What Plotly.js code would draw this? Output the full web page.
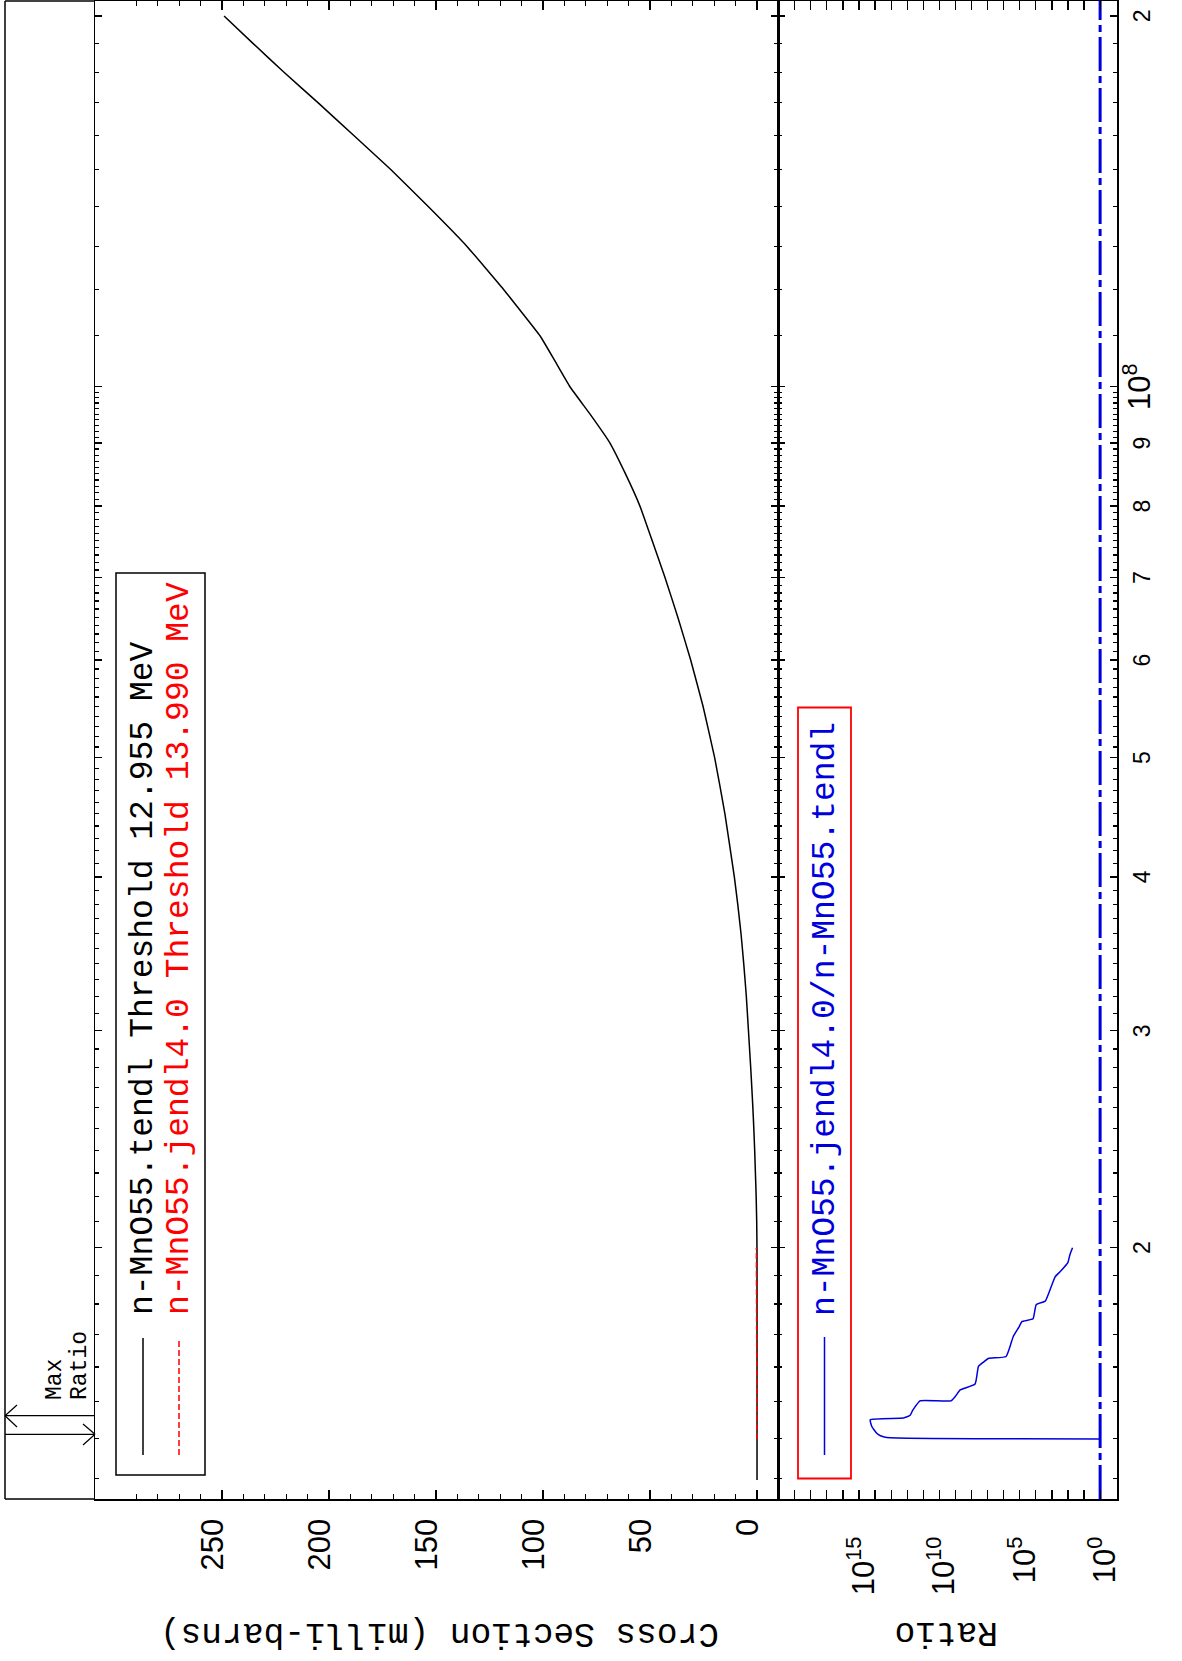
<!DOCTYPE html>
<html><head><meta charset="utf-8">
<script src="https://cdn.plot.ly/plotly-3.0.1.min.js"></script>
<style>
html,body{margin:0;padding:0;width:1182px;height:1661px;overflow:hidden;background:#fff}
#wrap{position:absolute;left:0;top:0;width:1661px;height:1182px;transform-origin:0 0;transform:translate(0,1661px) rotate(-90deg);}
#chart{width:1661px;height:1182px}
</style></head><body><div id="wrap"><div id="chart"></div></div>
<script>
// ---- data (energy in eV, cross section in milli-barns) ----
const energyTendl = [1.2955e7,1.4e7,1.6e7,1.8e7,2.0e7,2.1e7,2.2e7,2.3e7,2.4e7,2.5e7,2.6e7,2.7e7,2.8e7,3.0e7,3.2e7,3.4e7,3.6e7,3.8e7,4.0e7,4.5e7,5.0e7,5.5e7,6.0e7,6.5e7,7.0e7,7.5e7,8.0e7,8.5e7,9.0e7,9.5e7,1.0e8,1.05e8,1.1e8,1.2e8,1.3e8,1.4e8,1.5e8,1.6e8,1.7e8,1.8e8,1.9e8,2.0e8];
const xsTendl     = [0,0,0,0.002,0.02,0.15,0.4,0.75,1.1,1.5,1.95,2.45,2.95,4.0,5.0,6.2,7.5,9.0,10.6,15.0,19.8,25.2,31.0,37.0,43.0,49.0,54.7,61.5,68.7,78.0,87.4,94.5,101.4,118.5,135.5,153.5,171,188.5,205,221,235.5,249];
const energyJendl = [1.399e7,1.45e7,1.5e7,1.6e7,1.7e7,1.8e7,1.9e7,2.0e7];
const xsJendl     = [0,0.0002,0.002,0.02,0.06,0.12,0.2,0.3];
const energyRatio = [1.399e7,1.4027e7,1.408e7,1.4136e7,1.4318e7,1.45e7,1.4545e7,1.462e7,1.474e7,1.486e7,1.502e7,1.5021e7,1.515e7,1.533e7,1.55e7,1.602e7,1.615e7,1.626e7,1.632e7,1.695e7,1.725e7,1.742e7,1.751e7,1.798e7,1.81e7,1.86e7,1.894e7,1.912e7,1.946e7,1.975e7,2.0e7];
const ratioValues = [1,1.9e13,5.0e13,7.9e13,1.6e14,2.0e14,1.7e12,6.6e11,4.8e11,3.2e11,1.6e11,1.9e9,1.0e9,5.1e8,6.0e7,3.7e7,1.8e7,8.9e6,7.1e5,2.5e5,1.1e5,7.4e4,1.5e4,9.5e3,2.6e3,1.1e3,630,310,100,75,52];
const energyRef = [1.2503e7,2.0566e8];
const ratioRef  = [1,1];

// ---- ticks ----
const energyTickVals = [2e7,3e7,4e7,5e7,6e7,7e7,8e7,9e7,1e8,2e8];
const energyTickText = ['2','3','4','5','6','7','8','9','<span style="font-size:31px">10<sup>8</sup></span>','2'];
const xsTickVals = [0,50,100,150,200,250];
const xsTickText = ['0','50','100','150','200','250'];
const ratioTickVals = [1,1e5,1e10,1e15];
const ratioTickText = ['10<sup>0</sup>','10<sup>5</sup>','10<sup>10</sup>','10<sup>15</sup>'];

const energyMinor = [];
for (let k = 13; k < 100; k++) { if (k % 10 !== 0) energyMinor.push(k * 1e6); }
for (let k = 11; k < 20; k++) energyMinor.push(k * 1e7);
const xsMinor = [];
for (let v = 0; v <= 300; v += 10) { if (v % 50 !== 0) xsMinor.push(v); }
const ratioMinor = [];
for (let p = -1; p <= 20; p++) { if (p % 5 !== 0) ratioMinor.push(Math.pow(10, p)); }

// ---- layout helpers (landscape pixel -> paper) ----
const ML = 162, MT = 95, PW = 1498, PH = 1022;
const X = lx => (lx - ML) / PW;
const Y = ly => (MT + PH - ly) / PH;
const split = Y(778);

const mono = 'Liberation Mono, DejaVu Sans Mono, monospace';
const sans = 'Liberation Sans, Arial, sans-serif';

const traces = [
  {x: energyTendl, y: xsTendl, xaxis:'x', yaxis:'y', mode:'lines', line:{color:'black', width:1.5, shape:'spline', smoothing:0.3}, name:'n-MnO55.tendl'},
  {x: energyJendl, y: xsJendl, xaxis:'x', yaxis:'y', mode:'lines', line:{color:'red', width:1.5, dash:'6px,3px'}, name:'n-MnO55.jendl4.0'},
  {x: energyRef, y: ratioRef, xaxis:'x2', yaxis:'y2', mode:'lines', line:{color:'#0000dd', width:3, dash:'34px,5px,7px,5px'}, name:'unity'},
  {x: energyRatio, y: ratioValues, xaxis:'x2', yaxis:'y2', mode:'lines', line:{color:'#0000dd', width:1.5, shape:'spline', smoothing:0.4}, name:'ratio'}
];

const axBase = {showline:true, linecolor:'black', linewidth:1.5, mirror:'ticks', ticks:'inside', tickcolor:'black', tickwidth:1.2, showgrid:false, zeroline:false};
const erange = [Math.log10(1.2503e7), Math.log10(2.0566e8)];

const layout = {
  width:1661, height:1182,
  margin:{l:ML, r:1, t:MT, b:1182-MT-PH, pad:0},
  paper_bgcolor:'white', plot_bgcolor:'white', showlegend:false,
  xaxis: Object.assign({}, axBase, {type:'log', range:erange, domain:[0,1], anchor:'y', tickmode:'array', tickvals:energyTickVals, ticklen:7, showticklabels:false,
          minor:{tickvals:energyMinor, ticks:'inside', ticklen:4, tickwidth:1.2, tickcolor:'black', showgrid:false}}),
  xaxis2: Object.assign({}, axBase, {type:'log', range:erange, domain:[0,1], anchor:'y2', tickmode:'array', tickvals:energyTickVals, ticktext:energyTickText, ticklen:7,
          tickfont:{family:sans, size:23, color:'black'}, ticklabelstandoff:4,
          minor:{tickvals:energyMinor, ticks:'inside', ticklen:4, tickwidth:1.2, tickcolor:'black', showgrid:false}}),
  yaxis: Object.assign({}, axBase, {domain:[split,1], anchor:'x', range:[-9.8,309.3], tickmode:'array', tickvals:xsTickVals, ticktext:xsTickText, ticklen:9,
          tickfont:{family:sans, size:31, color:'black'}, ticklabelstandoff:12, ticklabelshift:-10,
          minor:{tickvals:xsMinor, ticks:'inside', ticklen:5, tickwidth:1.2, tickcolor:'black', showgrid:false}}),
  yaxis2: Object.assign({}, axBase, {domain:[0,split], anchor:'x2', type:'log', range:[-1.05,20.04], tickmode:'array', tickvals:ratioTickVals, ticktext:ratioTickText, ticklen:9,
          tickfont:{family:sans, size:31, color:'black'}, ticklabelstandoff:30, ticklabelshift:4,
          minor:{tickvals:ratioMinor, ticks:'inside', ticklen:9, tickwidth:1.2, tickcolor:'black', showgrid:false}}),
  shapes: [
    {type:'line', xref:'paper', yref:'paper', x0:X(162), x1:X(1660), y0:Y(5), y1:Y(5), line:{color:'black', width:1.5}},
    {type:'line', xref:'paper', yref:'paper', x0:X(162), x1:X(162), y0:Y(5), y1:Y(95), line:{color:'black', width:1.5}},
    {type:'line', xref:'paper', yref:'paper', x0:X(1660), x1:X(1660), y0:Y(5), y1:Y(95), line:{color:'black', width:1.5}},
    {type:'line', xref:'paper', yref:'paper', x0:X(245.3), x1:X(245.3), y0:Y(5), y1:Y(95), line:{color:'black', width:1.2}},
    {type:'line', xref:'paper', yref:'paper', x0:X(245.3), x1:X(234), y0:Y(5), y1:Y(17), line:{color:'black', width:1.2}},
    {type:'line', xref:'paper', yref:'paper', x0:X(245.3), x1:X(256), y0:Y(5), y1:Y(17), line:{color:'black', width:1.2}},
    {type:'line', xref:'paper', yref:'paper', x0:X(226.7), x1:X(226.7), y0:Y(5), y1:Y(95), line:{color:'black', width:1.2}},
    {type:'line', xref:'paper', yref:'paper', x0:X(226.7), x1:X(216), y0:Y(95), y1:Y(83), line:{color:'black', width:1.2}},
    {type:'line', xref:'paper', yref:'paper', x0:X(226.7), x1:X(237), y0:Y(95), y1:Y(83), line:{color:'black', width:1.2}},
    {type:'rect', xref:'paper', yref:'paper', x0:X(186), x1:X(1088), y0:Y(205), y1:Y(116), line:{color:'black', width:1.5}, fillcolor:'rgba(0,0,0,0)'},
    {type:'line', xref:'paper', yref:'paper', x0:X(206), x1:X(323), y0:Y(143), y1:Y(143), line:{color:'black', width:1.5}},
    {type:'line', xref:'paper', yref:'paper', x0:X(206), x1:X(323), y0:Y(179), y1:Y(179), line:{color:'red', width:1.5, dash:'6px,3px'}},
    {type:'rect', xref:'paper', yref:'paper', x0:X(182.5), x1:X(953.5), y0:Y(851), y1:Y(798), line:{color:'red', width:1.8}, fillcolor:'rgba(0,0,0,0)'},
    {type:'line', xref:'paper', yref:'paper', x0:X(206), x1:X(324), y0:Y(824.5), y1:Y(824.5), line:{color:'#0000dd', width:1.5}}
  ],
  annotations: [
    {xref:'paper', yref:'paper', x:X(344), y:Y(144), xanchor:'left', yanchor:'middle', showarrow:false, text:'n-MnO55.tendl Threshold 12.955 MeV', font:{family:mono, size:33, color:'black'}},
    {xref:'paper', yref:'paper', x:X(344), y:Y(179), xanchor:'left', yanchor:'middle', showarrow:false, text:'n-MnO55.jendl4.0 Threshold 13.990 MeV', font:{family:mono, size:33, color:'red'}},
    {xref:'paper', yref:'paper', x:X(343), y:Y(825), xanchor:'left', yanchor:'middle', showarrow:false, text:'n-MnO55.jendl4.0/n-MnO55.tendl', font:{family:mono, size:33, color:'#0000dd'}},
    {xref:'paper', yref:'paper', x:X(259), y:Y(55), xanchor:'left', yanchor:'middle', showarrow:false, text:'Max', font:{family:mono, size:23, color:'black'}},
    {xref:'paper', yref:'paper', x:X(259), y:Y(80), xanchor:'left', yanchor:'middle', showarrow:false, text:'Ratio', font:{family:mono, size:23, color:'black'}},
    {xref:'paper', yref:'paper', x:X(28), y:Y(440), xanchor:'center', yanchor:'middle', textangle:-90, showarrow:false, text:'Cross Section (milli-barns)', font:{family:mono, size:34.5, color:'black'}},
    {xref:'paper', yref:'paper', x:X(28), y:Y(946), xanchor:'center', yanchor:'middle', textangle:-90, showarrow:false, text:'Ratio', font:{family:mono, size:34.5, color:'black'}}
  ]
};

Plotly.newPlot('chart', traces, layout, {staticPlot:true, displayModeBar:false});
</script></body></html>
